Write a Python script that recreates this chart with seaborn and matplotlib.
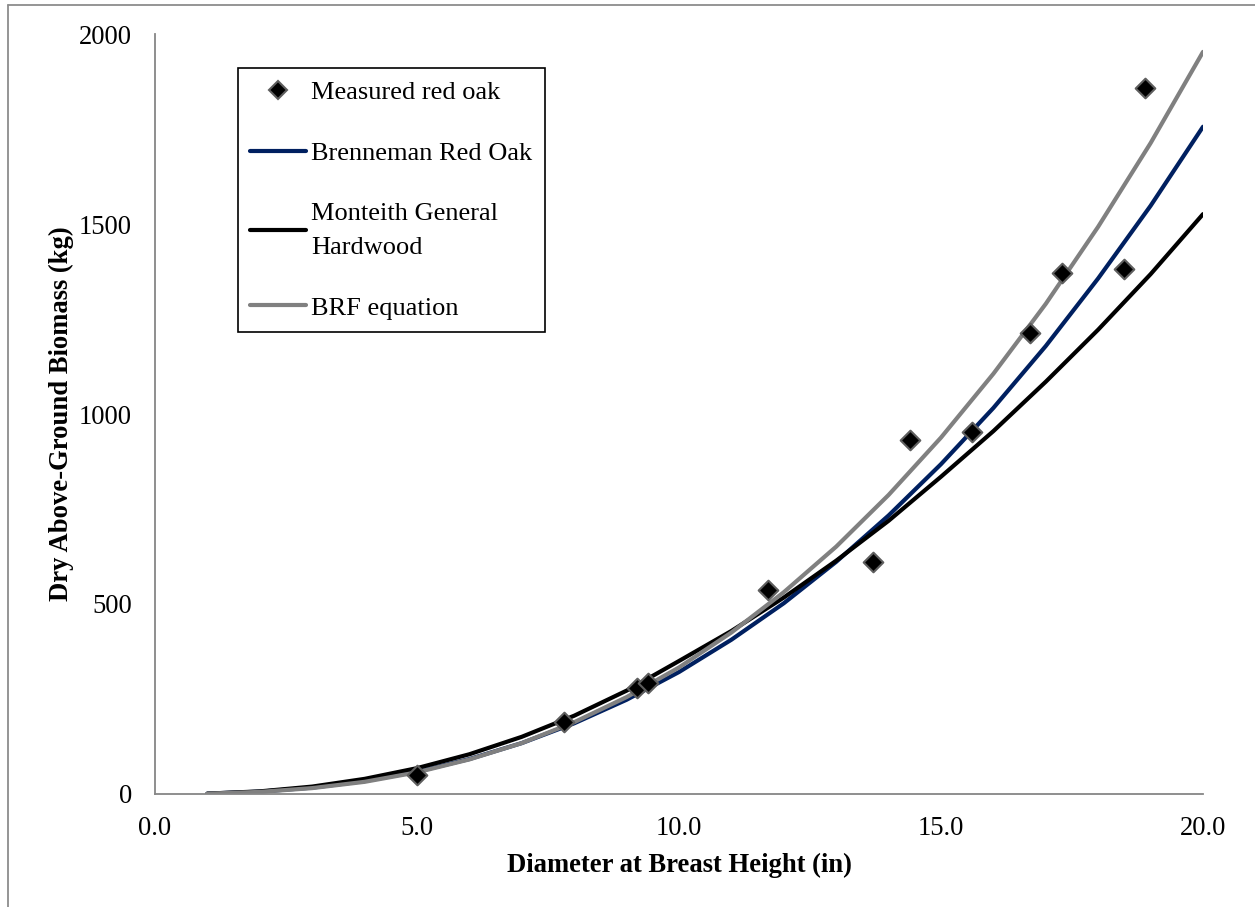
import matplotlib
matplotlib.use("Agg")
import matplotlib.pyplot as plt
import seaborn as sns
import pandas as pd
from matplotlib.lines import Line2D

# Diameter at breast height (in) for the model curves
dbh = list(range(1, 21))

# Dry above-ground biomass (kg) predicted by each equation
brenneman = [1.1, 6.2, 16.8, 34, 59, 92, 134, 186, 248, 321,
             406, 502, 611, 733, 868, 1016, 1179, 1357, 1548, 1756]
monteith = [1.0, 6.9, 19.5, 39.8, 68, 104.6, 150.5, 206, 272, 350,
            429, 517, 614, 719, 835, 955, 1085, 1222, 1368, 1526]
brf = [0.94, 5.5, 15.5, 32, 57, 91, 134, 189, 255, 333,
       425, 531, 651, 787, 938, 1106, 1290, 1493, 1713, 1953]

# Measured red oak trees
meas_dbh = [5.0, 7.8, 9.2, 9.4, 11.7, 13.7, 14.4, 15.6, 16.7, 17.3, 18.5, 18.9]
meas_biomass = [50, 189, 280, 293, 537, 610, 931, 952, 1212, 1370, 1381, 1857]

series_names = ["Brenneman Red Oak", "Monteith General\nHardwood", "BRF equation"]
series_colors = ["#002060", "#000000", "#808080"]

curves = pd.DataFrame({
    "dbh": dbh * 3,
    "biomass": brenneman + monteith + brf,
    "model": [series_names[0]] * 20 + [series_names[1]] * 20 + [series_names[2]] * 20,
})
measured = pd.DataFrame({"dbh": meas_dbh, "biomass": meas_biomass})

sns.set_theme(style="white")
plt.rcParams["font.family"] = ["Liberation Serif", "DejaVu Serif"]
plt.rcParams["text.color"] = "black"
plt.rcParams["axes.labelcolor"] = "black"

fig = plt.figure(figsize=(12.55, 9.07), dpi=100)
ax = fig.add_axes([0.12351, 0.12459, 0.83506, 0.83792])

LW = 3.0
for name, color in zip(series_names, series_colors):
    sub = curves[curves["model"] == name]
    sns.lineplot(data=sub, x="dbh", y="biomass", ax=ax, color=color,
                 linewidth=LW, solid_capstyle="round", legend=False,
                 sort=False, estimator=None)

sns.scatterplot(data=measured, x="dbh", y="biomass", ax=ax, marker="D",
                s=100, color="black", edgecolor="#5e5e5e", linewidth=1.5,
                zorder=5, legend=False)

ax.set_xlim(0, 20)
ax.set_ylim(0, 2000)
ax.set_xticks([0, 5, 10, 15, 20])
ax.set_xticklabels(["0.0", "5.0", "10.0", "15.0", "20.0"])
ax.set_yticks([0, 500, 1000, 1500, 2000])
ax.set_yticklabels(["0", "500", "1000", "1500", "2000"])

axis_gray = "#868686"
for side in ["top", "right"]:
    ax.spines[side].set_visible(False)
for side in ["left", "bottom"]:
    ax.spines[side].set_color(axis_gray)
    ax.spines[side].set_linewidth(1.3)

ax.tick_params(axis="both", which="major", direction="out", length=5.5,
               width=1.3, color=axis_gray, labelsize=19.2, labelcolor="black")
ax.tick_params(axis="y", pad=11)
ax.tick_params(axis="x", pad=10)

ax.set_xlabel("Diameter at Breast Height (in)", fontsize=19.2,
              fontweight="bold", labelpad=9)
ax.set_ylabel("Dry Above-Ground Biomass (kg)", fontsize=19.2,
              fontweight="bold", labelpad=3.5)

handles = [Line2D([], [], marker="D", linestyle="none", markerfacecolor="black",
                  markeredgecolor="#5e5e5e", markersize=9, markeredgewidth=1.5)]
for color in series_colors:
    handles.append(Line2D([], [], color=color, linewidth=LW, solid_capstyle="round"))
labels = ["Measured red oak"] + series_names

leg = ax.legend(handles, labels, loc="upper left", bbox_to_anchor=(0.079, 0.955),
                frameon=True, fancybox=False, framealpha=1, edgecolor="black",
                fontsize=19, handlelength=2.1, handletextpad=0.2,
                labelspacing=1.42, borderpad=0.48, borderaxespad=0)
leg.get_frame().set_linewidth(1.2)
for t in leg.get_texts():
    t.set_linespacing(1.7)

# Chart-area outline along the top and left edges
border = "#8c8c8c"
fig.add_artist(Line2D([8 / 1255, 1.0], [1 - 5 / 907, 1 - 5 / 907],
                      transform=fig.transFigure, color=border, linewidth=1.3))
fig.add_artist(Line2D([8 / 1255, 8 / 1255], [0.0, 1 - 5 / 907],
                      transform=fig.transFigure, color=border, linewidth=1.3))

fig.savefig("out.png", dpi=100, facecolor="white")
